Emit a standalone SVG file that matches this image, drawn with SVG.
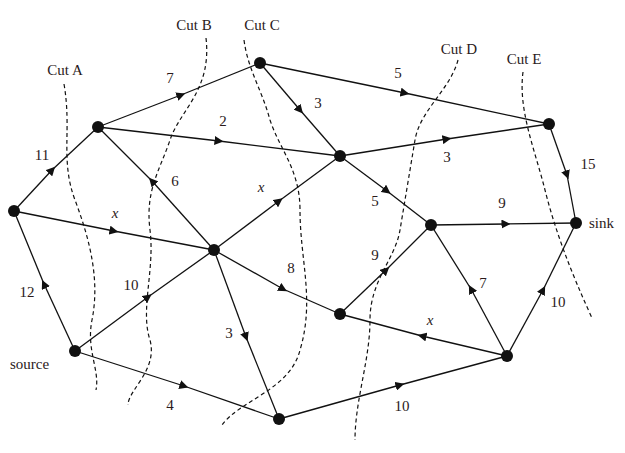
<svg xmlns="http://www.w3.org/2000/svg" width="625" height="453" viewBox="0 0 625 453">
<style>
.e{stroke:#111;stroke-width:1.3;fill:none}
.c{stroke:#111;stroke-width:1.2;fill:none;stroke-dasharray:4,3}
.n{fill:#111}
text{font-family:"Liberation Serif",serif;font-size:15px;fill:#2a1a1a}
.l{text-anchor:middle}
.i{font-style:italic}
</style>
<defs><marker id="a" viewBox="0 0 10 10" refX="5" refY="5" markerWidth="9" markerHeight="9" orient="auto" markerUnits="userSpaceOnUse"><path d="M0,0L10,5L0,10z" fill="#111"/></marker></defs>
<rect width="625" height="453" fill="#fff"/>
<g id="cuts">
<path class="c" d="M64,84 C72,130 60,160 75,200 C90,240 100,280 92,320 C86,350 100,370 96,390"/>
<path class="c" d="M206,38 C212,90 180,110 170,140 C160,170 145,190 150,230 C155,270 140,310 150,340 C158,370 128,390 128,405"/>
<path class="c" d="M244,40 C248,70 262,90 270,120 C280,150 300,170 300,210 C300,260 315,300 300,350 C290,390 240,400 222,425"/>
<path class="c" d="M458,60 C450,90 420,110 415,140 C410,170 405,200 400,230 C395,260 370,280 370,320 C370,360 355,400 355,440"/>
<path class="c" d="M523,72 C518,110 535,150 545,190 C555,230 570,270 592,318"/>
</g>
<g id="connectors">
<path class="e" d="M14,211L52,170" marker-end="url(#a)"/><path class="e" d="M52,170L98,127"/>
<path class="e" d="M75,351L44,284" marker-end="url(#a)"/><path class="e" d="M44,284L14,211"/>
<path class="e" d="M98,127L181,95" marker-end="url(#a)"/><path class="e" d="M181,95L260,63"/>
<path class="e" d="M98,127L219,141" marker-end="url(#a)"/><path class="e" d="M219,141L340,156"/>
<path class="e" d="M214,250L152,181" marker-end="url(#a)"/><path class="e" d="M152,181L98,127"/>
<path class="e" d="M14,211L114,231" marker-end="url(#a)"/><path class="e" d="M114,231L214,250"/>
<path class="e" d="M260,63L405,93" marker-end="url(#a)"/><path class="e" d="M405,93L549,124"/>
<path class="e" d="M260,63L300,110" marker-end="url(#a)"/><path class="e" d="M300,110L340,156"/>
<path class="e" d="M340,156L447,139" marker-end="url(#a)"/><path class="e" d="M447,139L549,124"/>
<path class="e" d="M214,250L279,201" marker-end="url(#a)"/><path class="e" d="M279,201L340,156"/>
<path class="e" d="M340,156L387,191" marker-end="url(#a)"/><path class="e" d="M387,191L431,225"/>
<path class="e" d="M431,225L506,224" marker-end="url(#a)"/><path class="e" d="M506,224L576,223"/>
<path class="e" d="M549,124L567,175" marker-end="url(#a)"/><path class="e" d="M567,175L576,223"/>
<path class="e" d="M214,250L283,289" marker-end="url(#a)"/><path class="e" d="M283,289L340,314"/>
<path class="e" d="M75,351L148,297" marker-end="url(#a)"/><path class="e" d="M148,297L214,250"/>
<path class="e" d="M340,314L386,270" marker-end="url(#a)"/><path class="e" d="M386,270L431,225"/>
<path class="e" d="M507,356L422,336" marker-end="url(#a)"/><path class="e" d="M422,336L340,314"/>
<path class="e" d="M507,356L471,289" marker-end="url(#a)"/><path class="e" d="M471,289L431,225"/>
<path class="e" d="M507,356L543,290" marker-end="url(#a)"/><path class="e" d="M543,290L576,223"/>
<path class="e" d="M214,250L246,337" marker-end="url(#a)"/><path class="e" d="M246,337L279,419"/>
<path class="e" d="M75,351L184,386" marker-end="url(#a)"/><path class="e" d="M184,386L279,419"/>
<path class="e" d="M279,419L400,385" marker-end="url(#a)"/><path class="e" d="M400,385L507,356"/>
</g>
<g id="nodes">
<circle id="n1" class="n" cx="14" cy="211" r="6"/>
<circle id="n2" class="n" cx="98" cy="127" r="6"/>
<circle id="n3" class="n" cx="260" cy="63" r="6"/>
<circle id="n4" class="n" cx="549" cy="124" r="6"/>
<circle id="n5" class="n" cx="340" cy="156" r="6"/>
<circle id="n6" class="n" cx="214" cy="250" r="6"/>
<circle id="n7" class="n" cx="431" cy="225" r="6"/>
<g id="sink"><circle class="n" cx="576" cy="223" r="6"/><text x="589" y="228">sink</text></g>
<circle id="n8" class="n" cx="340" cy="314" r="6"/>
<circle id="n9" class="n" cx="507" cy="356" r="6"/>
<g id="source"><circle class="n" cx="75" cy="351" r="6"/><text x="10" y="369">source</text></g>
<circle id="n10" class="n" cx="279" cy="419" r="6"/>
</g>
<g id="labels">
<text class="l" x="42" y="160">11</text>
<text class="l" x="27" y="297">12</text>
<text class="l" x="170" y="83">7</text>
<text class="l" x="223" y="126">2</text>
<text class="l" x="175" y="186">6</text>
<text class="l i" x="115" y="218">x</text>
<text class="l" x="398" y="78">5</text>
<text class="l" x="318" y="108">3</text>
<text class="l" x="447" y="162">3</text>
<text class="l i" x="261" y="192">x</text>
<text class="l" x="375" y="206">5</text>
<text class="l" x="502" y="208">9</text>
<text class="l" x="588" y="169">15</text>
<text class="l" x="291" y="273">8</text>
<text class="l" x="131" y="290">10</text>
<text class="l" x="375" y="260">9</text>
<text class="l i" x="430" y="325">x</text>
<text class="l" x="483" y="288">7</text>
<text class="l" x="558" y="307">10</text>
<text class="l" x="229" y="338">3</text>
<text class="l" x="170" y="410">4</text>
<text class="l" x="402" y="411">10</text>
<text class="l" x="65" y="75">Cut A</text>
<text class="l" x="194" y="30">Cut B</text>
<text class="l" x="262" y="30">Cut C</text>
<text class="l" x="459" y="54">Cut D</text>
<text class="l" x="524" y="64">Cut E</text>
</g>
</svg>
